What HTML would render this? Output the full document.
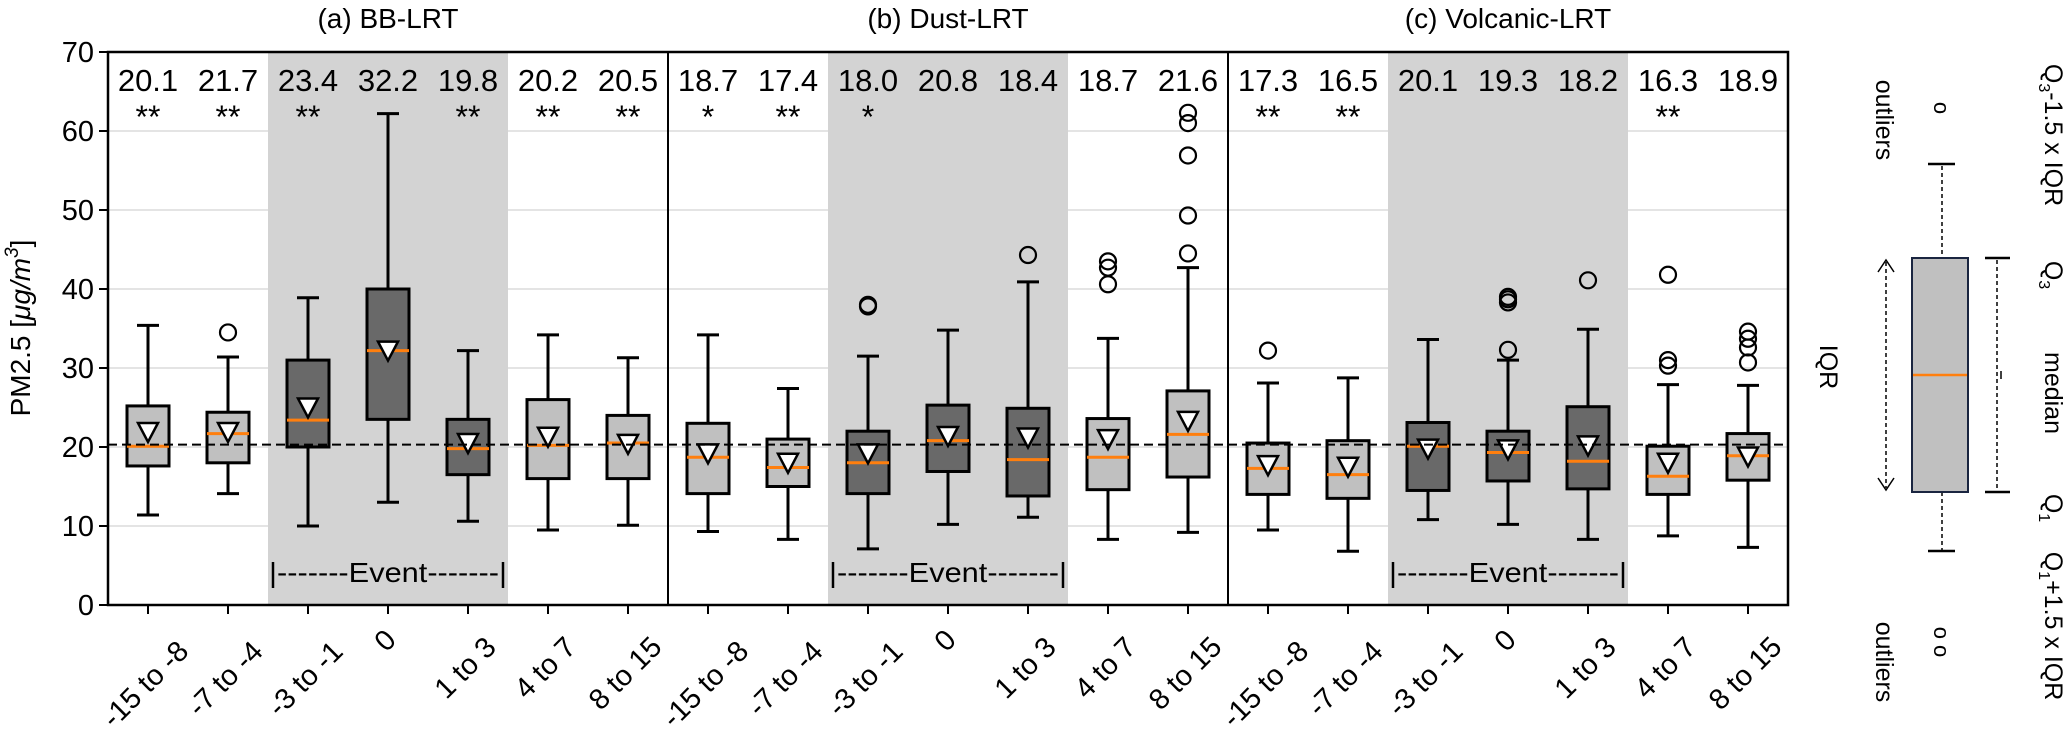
<!DOCTYPE html>
<html><head><meta charset="utf-8"><style>
html,body{margin:0;padding:0;background:#fff;}
svg{display:block;font-family:"Liberation Sans","DejaVu Sans",sans-serif;}
</style></head><body>
<svg id="chart" width="2067" height="738" viewBox="0 0 2067 738" xmlns="http://www.w3.org/2000/svg">
<g id="gridg"></g>
<g id="shadeg"></g>
<g id="boxg"></g>
<g id="axg"></g>
<g id="legend">
  <text transform="translate(1820,367) rotate(90)" text-anchor="middle" font-size="25">IQR</text>
  <text transform="translate(1876,120) rotate(90)" text-anchor="middle" font-size="25">outliers</text>
  <text transform="translate(1876,662) rotate(90)" text-anchor="middle" font-size="25">outliers</text>
  <line x1="1886" y1="262" x2="1886" y2="488" stroke="#000" stroke-width="1.5" stroke-dasharray="4,3"/>
  <path d="M1878,272 L1886,260 L1894,272 M1878,478 L1886,490 L1894,478" fill="none" stroke="#000" stroke-width="1.5"/>
  <text transform="translate(1934,108) rotate(90)" text-anchor="middle" font-size="22">o</text>
  <text transform="translate(1934,642) rotate(90)" text-anchor="middle" font-size="22">o o</text>
  <line x1="1942" y1="166" x2="1942" y2="258" stroke="#000" stroke-width="1.5" stroke-dasharray="4,3"/>
  <line x1="1942" y1="492" x2="1942" y2="550" stroke="#000" stroke-width="1.5" stroke-dasharray="4,3"/>
  <line x1="1928" y1="164" x2="1955" y2="164" stroke="#000" stroke-width="2.5"/>
  <line x1="1928" y1="551" x2="1955" y2="551" stroke="#000" stroke-width="2.5"/>
  <rect x="1912" y="258" width="56" height="234" fill="#c0c0c0" stroke="#1a2540" stroke-width="2"/>
  <line x1="1913" y1="375" x2="1967" y2="375" stroke="#ff7f0e" stroke-width="2.5"/>
  <line x1="1997" y1="260" x2="1997" y2="490" stroke="#000" stroke-width="1.5" stroke-dasharray="4,3"/>
  <line x1="1985" y1="258" x2="2010" y2="258" stroke="#000" stroke-width="2.5"/>
  <line x1="1985" y1="492" x2="2010" y2="492" stroke="#000" stroke-width="2.5"/>
  <line x1="2001" y1="371" x2="2001" y2="379" stroke="#000" stroke-width="1.5"/>
  <text transform="translate(2045,135) rotate(90)" text-anchor="middle" font-size="25">Q<tspan font-size="16" dy="6">3</tspan><tspan dy="-6">-1.5 x IQR</tspan></text>
  <text transform="translate(2045,275) rotate(90)" text-anchor="middle" font-size="25">Q<tspan font-size="16" dy="6">3</tspan></text>
  <text transform="translate(2045,393) rotate(90)" text-anchor="middle" font-size="25">median</text>
  <text transform="translate(2045,508) rotate(90)" text-anchor="middle" font-size="25">Q<tspan font-size="16" dy="6">1</tspan></text>
  <text transform="translate(2045,626) rotate(90)" text-anchor="middle" font-size="25">Q<tspan font-size="16" dy="6">1</tspan><tspan dy="-6">+1.5 x IQR</tspan></text>
</g>
</svg>
<script>
const panels = ["(a) BB-LRT", "(b) Dust-LRT", "(c) Volcanic-LRT"];
const categories = ["-15 to -8", "-7 to -4", "-3 to -1", "0", "1 to 3", "4 to 7", "8 to 15"];
const eventFlags = [0, 0, 1, 1, 1, 0, 0];
const q1 = [[17.6,18.0,20.0,23.5,16.5,16.0,16.0],[14.1,15.0,14.1,16.9,13.8,14.6,16.2],[14.0,13.5,14.5,15.7,14.7,14.0,15.8]];
const medians = [[20.1,21.7,23.4,32.2,19.8,20.2,20.5],[18.7,17.4,18.0,20.8,18.4,18.7,21.6],[17.3,16.5,20.1,19.3,18.2,16.3,18.9]];
const q3 = [[25.2,24.4,31.0,40.0,23.5,26.0,24.0],[23.0,21.0,22.0,25.3,24.9,23.6,27.1],[20.5,20.8,23.1,22.0,25.1,20.1,21.7]];
const whiskerLow = [[11.4,14.1,10.0,13.0,10.6,9.5,10.1],[9.3,8.3,7.1,10.2,11.1,8.3,9.2],[9.5,6.8,10.8,10.2,8.3,8.75,7.3]];
const whiskerHigh = [[35.4,31.4,38.9,62.2,32.2,34.2,31.3],[34.2,27.4,31.5,34.8,40.9,33.75,42.7],[28.1,28.75,33.6,31.0,34.9,27.9,27.8]];
const means = [[21.9,21.9,25.0,32.2,20.5,21.3,20.4],[19.2,18.0,19.2,21.4,21.2,21.0,23.3],[17.7,17.5,19.8,19.7,20.2,18.0,18.8]];
const outliers = [[[],[34.5],[],[],[],[],[]],[[],[],[37.8,38.0],[],[44.3],[43.5,42.7,40.6],[44.5,49.3,56.9,61.0,62.3]],[[32.2],[],[],[32.3,38.3,39.0,38.7],[41.1],[41.8,31.0,30.3],[34.6,33.7,32.6,30.7]]];
const stars = [["**","**","**","","**","**","**"],["*","**","*","","","",""],["**","**","","","","**",""]];
const yTicks = [0,10,20,30,40,50,60,70];
const refLine = 20.3;

const NS="http://www.w3.org/2000/svg";
const L=108, T=52, B=605, PW=560, STEP=80;
function y(v){return B-(v/70)*(B-T);}
function x(p,i){return L+p*PW+40+i*STEP;}
function mk(tag,attrs,parent){const e=document.createElementNS(NS,tag);for(const k in attrs)e.setAttribute(k,attrs[k]);parent.appendChild(e);return e;}
const grid=document.getElementById('gridg'),shade=document.getElementById('shadeg'),bx=document.getElementById('boxg'),ax=document.getElementById('axg');

yTicks.forEach(t=>{
  if(t>0&&t<70){const g=mk('line',{x1:L,x2:L+3*PW,y1:y(t),y2:y(t),stroke:'#e4e4e4','stroke-width':2},grid);
  
  }
  const tk=mk('line',{x1:L-9,x2:L,y1:y(t),y2:y(t),stroke:'#000','stroke-width':2},ax);
  
  
  const tl=mk('text',{x:L-14,y:y(t)+10,'text-anchor':'end','font-size':29},ax);
  tl.textContent=t;
  
  
});

panels.forEach((pn,p)=>{
  const first=eventFlags.indexOf(1), last=eventFlags.lastIndexOf(1);
  const sx=x(p,first)-40, ex=x(p,last)+40;
  const r=mk('rect',{x:sx,y:T,width:ex-sx,height:B-T,fill:'#d3d3d3'},shade);
  
  
  const ev=mk('text',{x:(sx+ex)/2,y:582,'text-anchor':'middle','font-size':28,textLength:ex-sx-2,lengthAdjust:'spacingAndGlyphs'},shade);
  ev.textContent='|-------Event-------|';
  
  
  const tt=mk('text',{x:L+p*PW+PW/2,y:28,'text-anchor':'middle','font-size':28},ax);
  tt.textContent=pn;
  
  
  categories.forEach((c,i)=>{
    const cx=x(p,i);
    const g=mk('g',{},bx);
    
    
    const hw=21, cw=11;
    mk('line',{x1:cx,x2:cx,y1:y(whiskerHigh[p][i]),y2:y(q3[p][i]),stroke:'#000','stroke-width':3},g);
    mk('line',{x1:cx,x2:cx,y1:y(q1[p][i]),y2:y(whiskerLow[p][i]),stroke:'#000','stroke-width':3},g);
    mk('line',{x1:cx-cw,x2:cx+cw,y1:y(whiskerHigh[p][i]),y2:y(whiskerHigh[p][i]),stroke:'#000','stroke-width':3},g);
    mk('line',{x1:cx-cw,x2:cx+cw,y1:y(whiskerLow[p][i]),y2:y(whiskerLow[p][i]),stroke:'#000','stroke-width':3},g);
    mk('rect',{x:cx-hw,y:y(q3[p][i]),width:2*hw,height:y(q1[p][i])-y(q3[p][i]),fill:eventFlags[i]?'#696969':'#c0c0c0',stroke:'#000','stroke-width':3},g);
    mk('line',{x1:cx-hw,x2:cx+hw,y1:y(medians[p][i]),y2:y(medians[p][i]),stroke:'#ff7f0e','stroke-width':3},g);
    const m=y(means[p][i]);
    mk('path',{d:`M${cx-10},${m-9} L${cx+10},${m-9} L${cx},${m+10} Z`,fill:'#fff',stroke:'#000','stroke-width':2.5},g);
    outliers[p][i].forEach(o=>{mk('circle',{cx:cx,cy:y(o),r:8,fill:'none',stroke:'#000','stroke-width':2.2},g);});
    const ml=mk('text',{x:cx,y:91,'text-anchor':'middle','font-size':31},ax);
    ml.textContent=medians[p][i].toFixed(1);
    
    
    if(stars[p][i]){const st=mk('text',{x:cx,y:128,'text-anchor':'middle','font-size':32},ax);
      st.textContent=stars[p][i];
      
      }
    const tk=mk('line',{x1:cx,x2:cx,y1:B,y2:B+9,stroke:'#000','stroke-width':2},ax);
    
    
    const lb=mk('text',{'text-anchor':'middle','font-size':29},ax);
    lb.textContent=c;
    
    
    const w=c.length*15.5, h=22;
    const cy=626+(w+h)*0.707/2;
    lb.setAttribute('transform',`translate(${cx+4},${cy+8}) rotate(-45)`);
  });
});
const rl=mk('line',{x1:L,x2:L+3*PW,y1:y(refLine),y2:y(refLine),stroke:'#000','stroke-width':2,'stroke-dasharray':'9,5'},ax);


const fr=mk('rect',{x:L,y:T,width:3*PW,height:B-T,fill:'none',stroke:'#000','stroke-width':2.5},ax);


[1,2].forEach(k=>{const s=mk('line',{x1:L+k*PW,x2:L+k*PW,y1:T,y2:B,stroke:'#000','stroke-width':2},ax);
  
  });
const yl=mk('text',{transform:`translate(30,328) rotate(-90)`,'text-anchor':'middle','font-size':28},ax);
yl.innerHTML='PM2.5 [<tspan font-style="italic">μg/m</tspan><tspan font-size="19" dy="-12" font-style="italic">3</tspan><tspan dy="12">]</tspan>';


</script>
</body></html>
